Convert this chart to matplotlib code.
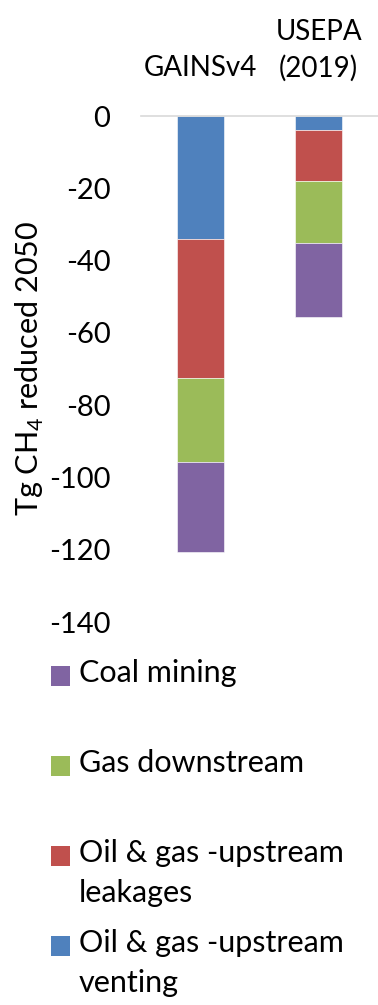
import numpy as np
import matplotlib
matplotlib.use("Agg")
import matplotlib.pyplot as plt
from matplotlib.patches import Rectangle

# Methane reductions in 2050 by source (Tg CH4, negative = reduction)
models = ["GAINSv4", "USEPA\n(2019)"]
sources = ["Oil & gas -upstream\nventing", "Oil & gas -upstream\nleakages",
           "Gas downstream", "Coal mining"]
venting = [-34.0, -3.9]
leakages = [-38.6, -14.2]
downstream = [-23.1, -16.9]
coal = [-25.0, -20.7]
colors = ["#4F81BD", "#C0504D", "#9BBB59", "#8064A2"]

plt.rcParams["font.family"] = ["Lato", "DejaVu Sans"]
plt.rcParams["mathtext.fontset"] = "custom"
plt.rcParams["mathtext.rm"] = "Lato"
plt.rcParams["axes.unicode_minus"] = False

fig = plt.figure(figsize=(3.78, 10.05), dpi=100)
ax = fig.add_axes([0.373, 0.381, 0.627, 0.5035])

x = np.arange(len(models))
bottom = np.zeros(len(models))
for vals, color, name in zip([venting, leakages, downstream, coal], colors, sources):
    ax.bar(x, vals, width=0.4, bottom=bottom, color=color, label=name,
           edgecolor="white", linewidth=0.4)
    bottom += np.array(vals)

ax.set_xlim(-0.5, 1.5)
ax.set_ylim(-140, 0)
ax.set_yticks(np.arange(-140, 1, 20))
ax.tick_params(axis="y", length=0, pad=22, labelsize=21)
ax.xaxis.tick_top()
ax.set_xticks(x, models)
ax.tick_params(axis="x", length=0, pad=25, labelsize=20)
for lbl in ax.get_xticklabels():
    lbl.set_linespacing(1.45)
for s in ["left", "right", "bottom"]:
    ax.spines[s].set_visible(False)
ax.spines["top"].set_color("#d9d9d9")
ax.spines["top"].set_linewidth(1.2)
fig.text(0.08, 0.634, r"Tg CH$_\mathrm{4}$ reduced 2050", rotation=90,
         ha="center", va="center", fontsize=22)

# legend below the plot: coal mining first, one slot per entry
leg_top = 664
slot = 90
for i, (name, color) in enumerate(zip(sources[::-1], colors[::-1])):
    y = leg_top + i * slot
    fig.patches.append(Rectangle((51 / 378, 1 - (y + 22) / 1005), 19 / 378, 20 / 1005,
                                 transform=fig.transFigure, facecolor=color,
                                 edgecolor="none"))
    fig.text(79 / 378, 1 - (y - 5) / 1005, name, ha="left", va="top",
             fontsize=22, linespacing=1.5)

fig.savefig("out.png", dpi=100)
